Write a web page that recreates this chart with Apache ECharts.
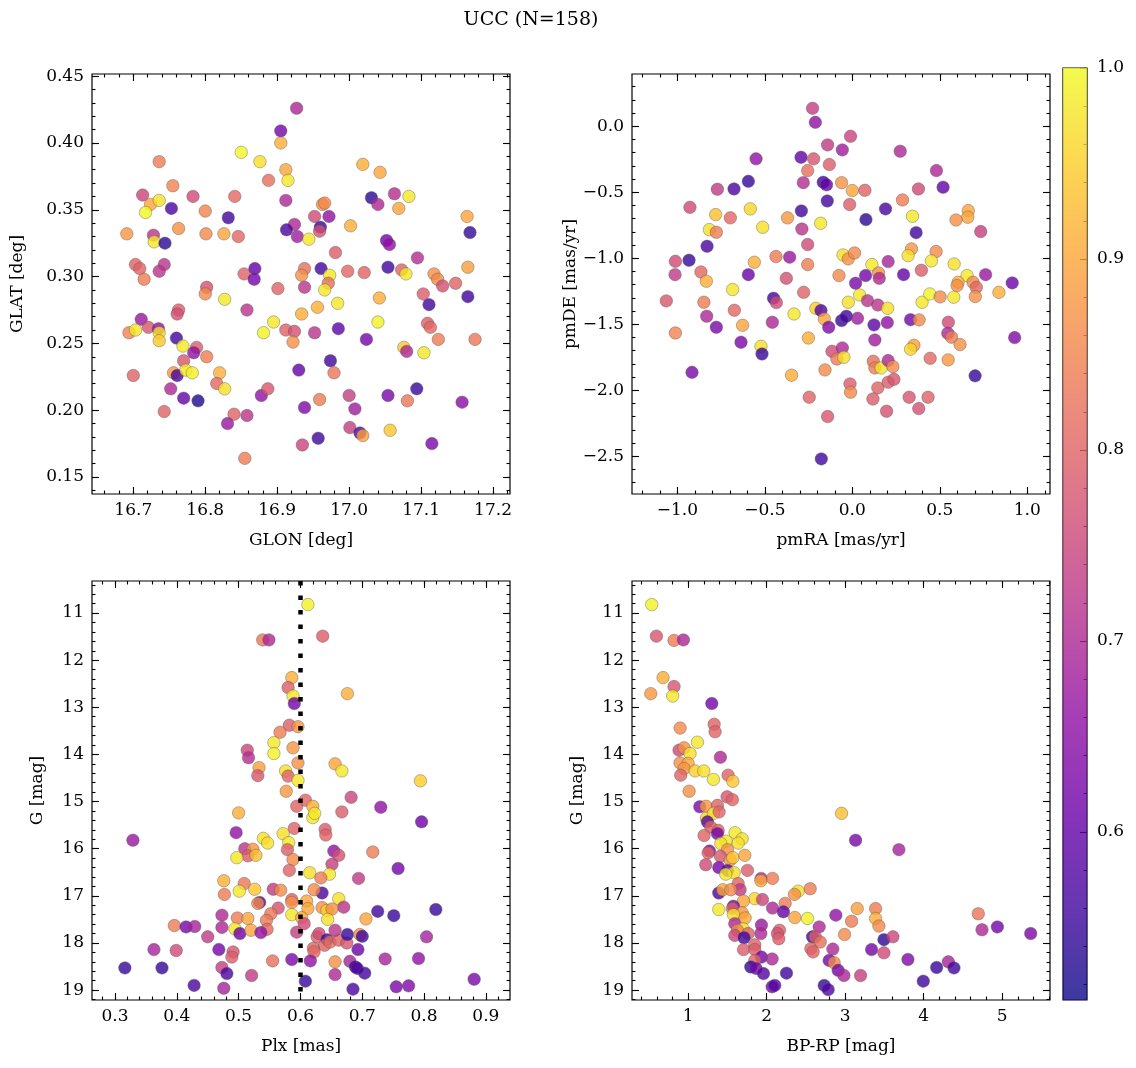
<!DOCTYPE html>
<html><head><meta charset="utf-8">
<script src="https://cdn.jsdelivr.net/npm/echarts@6/dist/echarts.min.js"></script>
<style>html,body{margin:0;padding:0;background:#fff}#chart{width:1136px;height:1068px}</style>
</head><body><div id="chart"></div>
<script>
// ---------------- DATA ----------------
const titleText = 'UCC (N=158)';
const probMin = 0.512, probMax = 1.0;
const plasma = ['#0d0887','#41049d','#6a00a8','#8f0da4','#b12a90','#cc4778','#e16462','#f2844b','#fca636','#fcce25','#f0f921'];

// [GLON, GLAT, prob]
const p1GlonGlat = [
[16.927,0.426,0.70],[16.905,0.409,0.62],[16.905,0.400,0.91],[16.850,0.393,1.00],[16.876,0.386,0.97],[16.736,0.386,0.84],[16.912,0.380,0.90],[16.888,0.372,0.82],[16.915,0.372,0.98],[16.755,0.368,0.85],
[16.713,0.361,0.75],[16.783,0.360,0.76],[16.841,0.360,0.81],[16.724,0.354,0.90],[16.736,0.357,0.97],[16.912,0.357,0.70],[16.717,0.348,1.00],[16.753,0.351,0.57],[16.800,0.349,0.85],[16.832,0.344,0.56],
[16.691,0.332,0.88],[16.728,0.331,0.72],[16.729,0.326,0.98],[16.744,0.325,0.54],[16.763,0.336,0.87],[16.801,0.332,0.86],[16.826,0.332,0.90],[16.846,0.330,0.81],[16.924,0.339,0.70],[16.913,0.335,0.57],
[16.928,0.330,0.68],[16.703,0.309,0.80],[16.709,0.306,0.80],[16.715,0.298,0.84],[16.743,0.309,0.72],[16.736,0.304,0.72],[16.854,0.302,0.80],[16.869,0.306,0.60],[16.868,0.298,0.62],[16.901,0.291,0.80],
[16.802,0.292,0.77],[16.800,0.287,0.86],[16.827,0.283,0.98],[16.858,0.275,0.72],[16.763,0.275,0.79],[16.761,0.272,0.77],[16.711,0.268,0.67],[16.694,0.258,0.85],[16.703,0.260,0.98],[16.721,0.262,0.78],
[16.735,0.261,0.66],[16.736,0.258,0.97],[16.736,0.252,0.94],[16.895,0.266,0.98],[16.881,0.258,0.99],[16.912,0.260,0.80],[16.924,0.259,0.77],[16.922,0.251,0.87],[16.760,0.254,0.56],[16.769,0.248,0.98],
[16.788,0.247,0.79],[16.784,0.243,0.66],[16.802,0.240,0.84],[16.770,0.237,0.78],[16.756,0.228,0.88],[16.761,0.226,0.57],[16.773,0.230,0.98],[16.782,0.228,0.99],[16.820,0.228,0.91],[16.700,0.226,0.80],
[16.816,0.220,0.81],[16.827,0.216,0.97],[16.752,0.216,0.70],[16.770,0.209,0.60],[16.790,0.207,0.53],[16.878,0.211,0.66],[16.887,0.216,0.78],[16.743,0.199,0.80],[16.840,0.197,0.80],[16.858,0.196,0.72],
[16.831,0.190,0.67],[16.855,0.164,0.84],[16.930,0.230,0.60],
[17.019,0.384,0.91],[17.043,0.378,0.90],[17.031,0.359,0.54],[17.040,0.354,0.70],[17.063,0.362,0.71],[17.083,0.360,0.98],[17.069,0.351,0.90],[16.963,0.354,0.87],[16.966,0.355,0.86],[16.952,0.345,0.76],
[16.972,0.345,0.66],[16.960,0.337,0.55],[16.959,0.334,0.77],[16.944,0.328,0.98],[17.002,0.338,0.91],[16.981,0.318,0.79],[17.052,0.327,0.62],[17.056,0.324,0.66],[17.095,0.314,0.71],[17.164,0.345,0.90],
[17.168,0.333,0.55],[16.938,0.306,0.82],[16.934,0.301,0.87],[16.961,0.306,0.56],[16.973,0.301,0.98],[16.971,0.295,0.82],[16.966,0.290,0.98],[16.938,0.292,0.72],[16.998,0.304,0.81],[17.021,0.303,0.80],
[17.054,0.307,0.56],[17.073,0.305,0.80],[17.079,0.302,0.98],[17.118,0.302,0.87],[17.123,0.298,0.86],[17.130,0.293,0.77],[17.148,0.295,0.80],[17.165,0.307,0.89],[17.103,0.287,0.79],[17.111,0.279,0.56],
[17.165,0.285,0.56],[16.956,0.277,0.91],[16.984,0.280,0.98],[17.042,0.284,0.91],[16.934,0.272,0.91],[17.040,0.266,0.99],[16.952,0.258,0.72],[16.985,0.261,0.59],[17.024,0.253,0.62],[17.109,0.265,0.79],
[17.113,0.262,0.81],[17.124,0.253,0.84],[17.175,0.253,0.83],[17.076,0.247,0.94],[17.080,0.244,0.70],[17.104,0.243,0.98],[16.974,0.237,0.56],[16.979,0.228,0.83],[17.094,0.216,0.55],[17.000,0.211,0.74],
[17.054,0.211,0.63],[17.081,0.207,0.83],[17.157,0.206,0.65],[16.959,0.208,0.84],[16.938,0.202,0.64],[17.008,0.201,0.68],[17.001,0.187,0.74],[17.015,0.183,0.57],[17.019,0.181,0.89],[17.057,0.185,0.94],
[16.957,0.179,0.56],[17.115,0.175,0.63],[16.935,0.174,0.75]
];

// [pmRA, pmDE, prob]
const p2PmraPmde = [
[-0.227,0.136,0.74],[-0.211,0.030,0.66],[-0.141,-0.141,0.73],[-0.293,-0.235,0.60],[-0.221,-0.247,0.78],[-0.550,-0.247,0.66],[-0.131,-0.290,0.79],[-0.255,-0.336,0.82],[-0.280,-0.427,0.71],[-0.166,-0.424,0.56],
[-0.147,-0.444,0.60],[-0.143,-0.566,0.56],[-0.594,-0.417,0.55],[-0.676,-0.475,0.57],[-0.771,-0.477,0.73],[-0.928,-0.614,0.76],[-0.781,-0.669,0.93],[-0.697,-0.694,0.81],[-0.583,-0.626,0.96],[-0.512,-0.765,0.97],
[-0.370,-0.694,0.88],[-0.291,-0.641,0.56],[-0.181,-0.735,0.98],[-0.288,-0.778,0.72],[-0.817,-0.783,0.97],[-0.777,-0.803,0.84],[-0.830,-0.909,0.57],[-0.255,-0.896,0.76],[-0.933,-1.015,0.55],[-1.011,-1.023,0.76],
[-1.013,-1.124,0.73],[-0.865,-1.104,0.81],[-0.834,-1.174,0.91],[-0.560,-1.030,0.91],[-0.594,-1.124,0.61],[-0.436,-0.987,0.84],[-0.358,-0.992,0.67],[-0.255,-1.048,0.84],[-0.377,-1.152,0.77],[-0.684,-1.237,0.98],
[-1.063,-1.323,0.78],[-0.848,-1.333,0.84],[-0.450,-1.303,0.56],[-0.434,-1.336,0.76],[-0.278,-1.258,0.80],[-0.832,-1.439,0.70],[-0.674,-1.394,0.81],[-0.777,-1.523,0.63],[-0.627,-1.508,0.90],[-0.457,-1.485,0.70],
[-0.333,-1.422,0.98],[-0.208,-1.379,0.95],[-0.179,-1.396,0.58],[-0.160,-1.460,0.90],[-0.135,-1.523,0.64],[-1.011,-1.566,0.85],[-0.636,-1.636,0.63],[-0.522,-1.667,0.97],[-0.516,-1.725,0.55],[-0.251,-1.604,0.91],
[-0.116,-1.705,0.76],[-0.088,-1.763,0.84],[-0.916,-1.864,0.63],[-0.347,-1.886,0.91],[-0.156,-1.846,0.86],[-0.246,-2.053,0.80],[-0.141,-2.199,0.78],[-0.177,-2.520,0.56],
[-0.010,-0.076,0.75],[-0.057,-0.179,0.68],[0.274,-0.189,0.70],[0.481,-0.336,0.70],[0.519,-0.462,0.60],[-0.061,-0.427,0.87],[0.000,-0.487,0.90],[0.072,-0.485,0.80],[-0.015,-0.593,0.79],[0.378,-0.475,0.76],
[0.287,-0.558,0.84],[0.190,-0.626,0.57],[0.078,-0.707,0.54],[0.344,-0.682,0.98],[0.365,-0.806,0.56],[0.663,-0.639,0.90],[0.660,-0.689,0.90],[0.593,-0.710,0.87],[0.734,-0.798,0.74],[-0.053,-0.975,0.97],
[-0.023,-1.005,0.87],[0.013,-0.960,0.86],[0.112,-1.048,0.98],[0.150,-1.111,0.87],[0.154,-1.152,0.70],[0.205,-1.025,0.69],[0.338,-0.929,0.88],[0.319,-0.980,0.97],[0.479,-0.949,0.86],[0.452,-1.020,0.98],
[0.582,-1.043,0.97],[0.395,-1.091,0.79],[0.293,-1.124,0.60],[-0.076,-1.131,0.86],[0.076,-1.131,0.62],[0.019,-1.189,0.63],[0.042,-1.278,0.98],[-0.023,-1.333,0.97],[0.087,-1.321,0.72],[0.146,-1.354,0.72],
[0.202,-1.379,0.97],[0.399,-1.333,0.98],[0.443,-1.270,0.99],[0.502,-1.293,0.86],[0.580,-1.295,0.98],[0.656,-1.131,0.98],[0.605,-1.182,0.91],[0.599,-1.207,0.87],[0.690,-1.182,0.86],[0.709,-1.220,0.81],
[0.762,-1.124,0.67],[0.703,-1.290,0.87],[0.838,-1.258,0.91],[0.914,-1.187,0.61],[-0.061,-1.472,0.55],[-0.034,-1.439,0.56],[0.030,-1.455,0.68],[0.124,-1.505,0.59],[0.200,-1.487,0.66],[0.333,-1.465,0.62],
[0.382,-1.467,0.86],[0.549,-1.485,0.76],[0.546,-1.568,0.70],[0.567,-1.598,0.84],[0.616,-1.654,0.87],[0.928,-1.601,0.64],[0.129,-1.619,0.68],[-0.057,-1.679,0.70],[-0.048,-1.750,0.97],[0.352,-1.659,0.89],
[0.333,-1.689,0.96],[0.445,-1.758,0.81],[0.548,-1.770,0.88],[0.120,-1.780,0.82],[0.129,-1.831,0.84],[0.165,-1.831,0.98],[0.205,-1.775,0.70],[0.232,-1.821,0.86],[0.702,-1.891,0.55],[-0.013,-1.952,0.79],
[-0.010,-2.015,0.86],[0.146,-1.982,0.80],[0.205,-1.939,0.79],[0.238,-1.917,0.78],[0.118,-2.066,0.79],[0.325,-2.053,0.78],[0.433,-2.053,0.80],[0.380,-2.139,0.77],[0.196,-2.159,0.77]
];

// [Plx, G, prob]
const p3PlxG = [
[0.539,11.57,0.83],[0.549,11.57,0.70],[0.586,12.37,0.91],[0.580,12.58,0.79],[0.588,12.76,0.98],[0.590,12.92,0.62],[0.582,13.38,0.79],[0.567,13.53,0.84],[0.596,13.41,0.87],[0.557,13.75,0.98],
[0.557,13.98,0.99],[0.514,13.91,0.75],[0.516,14.07,0.71],[0.588,13.86,0.88],[0.533,14.28,0.89],[0.531,14.45,0.78],[0.576,14.35,0.97],[0.580,14.46,0.80],[0.596,14.18,0.87],[0.596,14.55,0.98],
[0.577,14.78,0.88],[0.594,15.10,0.80],[0.500,15.24,0.91],[0.496,15.66,0.66],[0.329,15.82,0.67],[0.590,15.57,0.80],[0.540,15.78,0.97],[0.547,15.88,0.97],[0.572,15.68,0.97],[0.581,15.87,0.98],
[0.579,16.02,0.79],[0.510,16.00,0.72],[0.523,16.01,0.88],[0.515,16.15,0.79],[0.528,16.14,0.93],[0.497,16.19,0.98],[0.588,16.23,0.86],[0.582,16.46,0.80],[0.476,16.68,0.91],[0.509,16.74,0.83],
[0.501,16.90,0.98],[0.526,16.86,0.94],[0.477,16.97,0.84],[0.556,16.86,0.73],[0.568,16.88,0.86],[0.534,17.14,0.58],[0.531,17.16,0.86],[0.564,17.26,0.77],[0.586,17.08,0.80],[0.586,17.14,0.87],
[0.552,17.38,0.83],[0.545,17.52,0.83],[0.546,17.71,0.81],[0.586,17.40,0.98],[0.473,17.41,0.70],[0.498,17.47,0.84],[0.515,17.48,0.90],[0.396,17.63,0.84],[0.415,17.66,0.62],[0.429,17.65,0.69],
[0.473,17.67,0.70],[0.494,17.70,0.98],[0.502,17.80,0.61],[0.520,17.73,0.90],[0.536,17.78,0.66],[0.450,17.87,0.73],[0.594,17.77,0.74],[0.363,18.14,0.69],[0.399,18.16,0.76],[0.468,18.14,0.62],
[0.491,18.19,0.78],[0.489,18.30,0.79],[0.555,18.38,0.82],[0.586,18.35,0.63],[0.316,18.53,0.55],[0.376,18.53,0.55],[0.473,18.52,0.74],[0.481,18.65,0.57],[0.521,18.69,0.73],[0.428,18.90,0.57],
[0.476,18.96,0.69],
[0.612,10.82,0.99],[0.636,11.49,0.79],[0.676,12.71,0.91],[0.656,14.20,0.90],[0.667,14.35,0.98],[0.794,14.56,0.95],[0.682,14.91,0.75],[0.608,14.97,0.80],[0.620,15.10,0.91],[0.620,15.34,0.98],
[0.623,15.25,0.98],[0.667,15.22,0.79],[0.730,15.12,0.66],[0.796,15.43,0.61],[0.640,15.59,0.79],[0.641,15.71,0.80],[0.654,16.05,0.66],[0.662,16.14,0.77],[0.717,16.07,0.84],[0.651,16.33,0.74],
[0.758,16.42,0.62],[0.694,16.63,0.73],[0.615,16.51,0.97],[0.647,16.54,0.98],[0.633,16.62,0.84],[0.635,16.94,0.57],[0.622,16.87,0.86],[0.610,17.11,0.90],[0.612,17.27,0.90],[0.662,17.06,0.97],
[0.670,17.24,0.72],[0.635,17.25,0.87],[0.643,17.31,0.96],[0.651,17.28,0.87],[0.644,17.50,0.97],[0.602,17.46,0.90],[0.606,17.59,0.76],[0.706,17.49,0.90],[0.725,17.33,0.56],[0.751,17.42,0.55],
[0.819,17.29,0.55],[0.627,17.87,0.80],[0.630,17.80,0.76],[0.643,17.93,0.56],[0.639,18.05,0.80],[0.648,17.98,0.82],[0.662,17.94,0.80],[0.675,18.00,0.78],[0.656,17.73,0.72],[0.676,17.82,0.55],
[0.696,17.82,0.87],[0.700,17.86,0.56],[0.621,18.11,0.80],[0.622,18.19,0.81],[0.693,18.14,0.61],[0.804,17.87,0.69],[0.616,18.38,0.66],[0.656,18.40,0.87],[0.680,18.39,0.69],[0.689,18.51,0.55],
[0.692,18.54,0.58],[0.704,18.64,0.56],[0.737,18.34,0.69],[0.791,18.33,0.66],[0.656,18.67,0.70],[0.608,18.81,0.55],[0.685,18.98,0.57],[0.755,18.93,0.63],[0.775,18.91,0.64],[0.881,18.77,0.63]
];
const plxLine = 0.596;

// [BP-RP, G, prob]
const p4BprpG = [
[0.534,10.82,0.99],[0.594,11.49,0.78],[0.819,11.58,0.84],[0.938,11.57,0.70],[0.679,12.37,0.91],[0.819,12.56,0.78],[0.802,12.76,0.98],[0.522,12.71,0.88],[1.300,12.92,0.62],[0.896,13.44,0.86],
[1.330,13.36,0.80],[1.342,13.52,0.80],[1.117,13.74,0.98],[0.883,13.91,0.76],[0.947,13.86,0.87],[1.023,13.98,0.97],[0.896,14.18,0.87],[0.998,14.19,0.90],[0.947,14.30,0.88],[1.087,14.35,0.95],
[0.904,14.44,0.80],[1.198,14.35,0.97],[1.321,14.53,0.98],[1.410,14.06,0.70],[1.508,14.44,0.80],[1.568,14.57,0.94],[1.011,14.78,0.87],[1.495,14.90,0.78],[1.563,14.96,0.80],[1.147,15.11,0.63],
[1.227,15.10,0.88],[1.372,15.08,0.80],[1.232,15.35,0.96],[1.321,15.25,0.97],[1.393,15.22,0.80],[1.244,15.43,0.58],[1.287,15.54,0.80],[1.381,15.61,0.80],[1.372,15.68,0.62],[1.202,15.72,0.80],
[1.597,15.66,0.98],[1.687,15.79,0.97],[1.483,15.84,0.98],[1.415,15.89,0.97],[1.636,15.88,0.97],[1.500,16.02,0.87],[1.270,16.05,0.63],[1.253,16.09,0.81],[1.410,16.16,0.78],[1.534,16.24,0.87],
[1.568,16.19,0.94],[1.721,16.14,0.90],[1.223,16.34,0.76],[1.389,16.40,0.62],[1.500,16.46,0.58],[1.585,16.51,0.97],[1.478,16.54,0.98],[1.755,16.46,0.79],[1.929,16.63,0.70],[1.925,16.68,0.91],
[2.074,16.63,0.84],[1.636,16.74,0.80],[1.661,16.87,0.73],[1.389,16.94,0.57],[1.440,16.87,0.90],[1.542,16.87,0.86],[2.554,16.85,0.84],[2.401,16.90,0.97],[2.354,16.97,0.87],[1.848,17.06,0.96],
[1.946,17.08,0.75],[1.704,17.11,0.90],[1.576,17.22,0.61],[1.389,17.29,0.98],[1.563,17.27,0.80],[2.074,17.26,0.70],[2.235,17.16,0.84],[2.213,17.34,0.60],[1.687,17.36,0.88],[1.576,17.40,0.97],
[1.725,17.47,0.90],[2.358,17.46,0.90],[2.520,17.48,0.99],[2.881,17.41,0.66],[1.593,17.59,0.70],[1.699,17.70,0.97],[1.627,17.73,0.86],[1.933,17.62,0.67],[1.763,17.80,0.80],[1.593,17.84,0.75],
[1.712,17.89,0.56],[1.925,17.80,0.70],[2.163,17.73,0.80],[2.137,17.80,0.77],[2.154,17.91,0.79],[2.669,17.66,0.70],[2.584,17.87,0.56],[2.618,17.87,0.79],[2.682,17.98,0.82],[1.704,18.14,0.79],
[1.848,18.04,0.80],[1.848,18.14,0.79],[1.933,18.30,0.62],[1.848,18.37,0.80],[2.069,18.34,0.70],[1.797,18.51,0.55],[1.865,18.54,0.62],[1.959,18.65,0.58],[2.252,18.64,0.56],[2.563,18.12,0.80],
[2.592,18.19,0.80],[2.843,18.13,0.70],[2.796,18.37,0.62],[2.860,18.42,0.86],[2.911,18.58,0.62],[2.069,18.93,0.62],[2.103,18.90,0.58],[2.733,18.90,0.55],[2.784,18.99,0.58],
[2.954,15.25,0.93],[3.133,15.82,0.63],[3.685,16.02,0.69],[3.154,17.27,0.89],[3.388,17.27,0.84],[3.388,17.48,0.91],[3.430,17.64,0.86],[3.082,17.54,0.84],[2.992,17.82,0.86],[3.494,17.93,0.54],
[3.609,17.87,0.75],[3.337,18.14,0.62],[3.494,18.21,0.76],[3.800,18.35,0.64],[3.196,18.69,0.74],[2.984,18.69,0.70],[3.996,18.81,0.56],[4.166,18.52,0.55],[4.315,18.40,0.69],[4.387,18.53,0.56],
[4.697,17.38,0.83],[4.744,17.72,0.70],[4.940,17.66,0.62],[5.365,17.80,0.63]
];

// axis ranges and tick labels
const p1XRange = [16.6426, 17.2236], p1YRange = [0.1373, 0.4516];
const p2XRange = [-1.259, 1.130],   p2YRange = [-2.786, 0.396];
const p3XRange = [0.2628, 0.939],   p3YRange = [10.32, 19.21];
const p4XRange = [0.283, 5.611],    p4YRange = [10.32, 19.21];
const p1XTicks = [16.7,16.8,16.9,17.0,17.1,17.2];
const p1YTicks = [0.15,0.20,0.25,0.30,0.35,0.40,0.45];
const p2XTicks = [-1.0,-0.5,0.0,0.5,1.0];
const p2YTicks = [-2.5,-2.0,-1.5,-1.0,-0.5,0.0];
const p3XTicks = [0.3,0.4,0.5,0.6,0.7,0.8,0.9];
const gTicks   = [11,12,13,14,15,16,17,18,19];
const p4XTicks = [1,2,3,4,5];
const cbTicks  = [0.6,0.7,0.8,0.9,1.0];

// ---------------- CHART ----------------
const FONT = "'DejaVu Serif', serif";
function minorTicks(lo, hi, step) {
  const out = [];
  for (let k = Math.ceil(lo / step - 1e-9); k * step <= hi + 1e-9; k++) out.push(+(k * step).toFixed(6));
  return out;
}
const minusFmt = d => v => (v < 0 ? '\u2212' : '') + Math.abs(v).toFixed(d);

const xAxes = [], yAxes = [];
function addAxes(list, dim, grid, range, majors, minorStep, fmt, name, nameGap, inverse, opts) {
  opts = opts || {};
  const start = list.length;
  const minors = minorTicks(range[0], range[1], minorStep);
  const pos = dim === 'x' ? ['bottom', 'top'] : ['left', 'right'];
  const base = {type: 'value', gridIndex: grid, min: range[0], max: range[1], inverse: !!inverse,
    axisLine: {show: false, onZero: false}, splitLine: {show: false}, silent: true};
  const tick = (vals, len) => ({show: true, inside: true, length: len, customValues: vals,
    lineStyle: {color: '#000', width: 1.1}});
  const sides = opts.sides || [pos[0], pos[1]];
  const labelSide = opts.labelSide || pos[0];
  sides.forEach(side => {
    const isLab = side === labelSide;
    const major = Object.assign({}, base, {position: side, axisTick: tick(majors, 7),
      axisLabel: isLab ? {show: true, customValues: majors, formatter: fmt, fontFamily: FONT,
        fontSize: 17, color: '#000', margin: 8} : {show: false}});
    if (isLab && name) Object.assign(major, {name: name, nameLocation: 'middle', nameGap: nameGap,
      nameTextStyle: {fontFamily: FONT, fontSize: 17, color: '#000'}});
    list.push(major);
    list.push(Object.assign({}, base, {position: side, axisTick: tick(minors, 3.5), axisLabel: {show: false}}));
  });
  return start;
}

const grids = [
  {left: 92, top: 74, width: 418, height: 420},
  {left: 632, top: 74, width: 418, height: 420},
  {left: 92, top: 581, width: 418, height: 419},
  {left: 632, top: 581, width: 418, height: 419},
  {left: 1063, top: 68, width: 24, height: 932}
].map(g => Object.assign({show: true, borderColor: '#000', borderWidth: 1.2, backgroundColor: 'rgba(0,0,0,0)', containLabel: false}, g));

const panels = [
  {data: p1GlonGlat, xr: p1XRange, yr: p1YRange, xt: p1XTicks, yt: p1YTicks, xm: 0.02, ym: 0.01,
   xf: v => v.toFixed(1), yf: v => v.toFixed(2), xn: 'GLON [deg]', yn: 'GLAT [deg]', yg: 66, inv: false},
  {data: p2PmraPmde, xr: p2XRange, yr: p2YRange, xt: p2XTicks, yt: p2YTicks, xm: 0.1, ym: 0.1,
   xf: minusFmt(1), yf: minusFmt(1), xn: 'pmRA [mas/yr]', yn: 'pmDE [mas/yr]', yg: 51, inv: false},
  {data: p3PlxG, xr: p3XRange, yr: p3YRange, xt: p3XTicks, yt: gTicks, xm: 0.02, ym: 0.2,
   xf: v => v.toFixed(1), yf: v => String(v), xn: 'Plx [mas]', yn: 'G [mag]', yg: 46, inv: true},
  {data: p4BprpG, xr: p4XRange, yr: p4YRange, xt: p4XTicks, yt: gTicks, xm: 0.2, ym: 0.2,
   xf: v => String(v), yf: v => String(v), xn: 'BP-RP [mag]', yn: 'G [mag]', yg: 46, inv: true}
];

const series = [];
panels.forEach((p, i) => {
  const xi = addAxes(xAxes, 'x', i, p.xr, p.xt, p.xm, p.xf, p.xn, 38, false);
  const yi = addAxes(yAxes, 'y', i, p.yr, p.yt, p.ym, p.yf, p.yn, p.yg, p.inv);
  const s = {type: 'scatter', xAxisIndex: xi, yAxisIndex: yi, data: p.data, symbolSize: 12.5,
    itemStyle: {opacity: 0.8, borderColor: '#555', borderWidth: 0.5}, silent: true, clip: true, z: 3};
  if (i === 2) {
    s.markLine = {silent: true, symbol: ['none', 'none'], label: {show: false}, animation: false,
      lineStyle: {color: '#000', width: 4.5, type: [4.5, 10], cap: 'butt', opacity: 1},
      emphasis: {disabled: true}, data: [{xAxis: plxLine}]};
  }
  series.push(s);
});

// colorbar
const cbX = xAxes.length;
xAxes.push({type: 'category', gridIndex: 4, data: ['p'], show: false, boundaryGap: true});
const cbY = addAxes(yAxes, 'y', 4, [probMin, probMax], cbTicks, 0.02, v => v.toFixed(1), null, 0, false,
  {sides: ['right'], labelSide: 'right'});
yAxes[cbY].axisLabel.margin = 10;
function rgba(hex, a) {
  const n = parseInt(hex.slice(1), 16);
  return `rgba(${(n >> 16) & 255},${(n >> 8) & 255},${n & 255},${a})`;
}
const cbGradient = {type: 'linear', x: 0, y: 1, x2: 0, y2: 0,
  colorStops: plasma.map((c, i) => ({offset: i / (plasma.length - 1), color: rgba(c, 0.8)}))};
series.push({type: 'bar', xAxisIndex: cbX, yAxisIndex: cbY, stack: 'cb', data: [probMin],
  barWidth: '100%', itemStyle: {color: 'rgba(0,0,0,0)'}, silent: true});
series.push({type: 'bar', xAxisIndex: cbX, yAxisIndex: cbY, stack: 'cb', data: [probMax - probMin],
  barWidth: '100%', itemStyle: {color: cbGradient}, silent: true});

const chart = echarts.init(document.getElementById('chart'), null, {renderer: 'canvas'});
chart.setOption({
  animation: false,
  backgroundColor: '#fff',
  graphic: [{type: 'text', x: 531, y: 20, style: {text: titleText, fontFamily: FONT, fontSize: 19,
    fill: '#000', textAlign: 'center', textVerticalAlign: 'middle'}}],
  grid: grids,
  xAxis: xAxes,
  yAxis: yAxes,
  visualMap: {type: 'continuous', show: false, min: probMin, max: probMax, dimension: 2,
    seriesIndex: [0, 1, 2, 3], inRange: {color: plasma}},
  series: series
});
</script></body></html>
